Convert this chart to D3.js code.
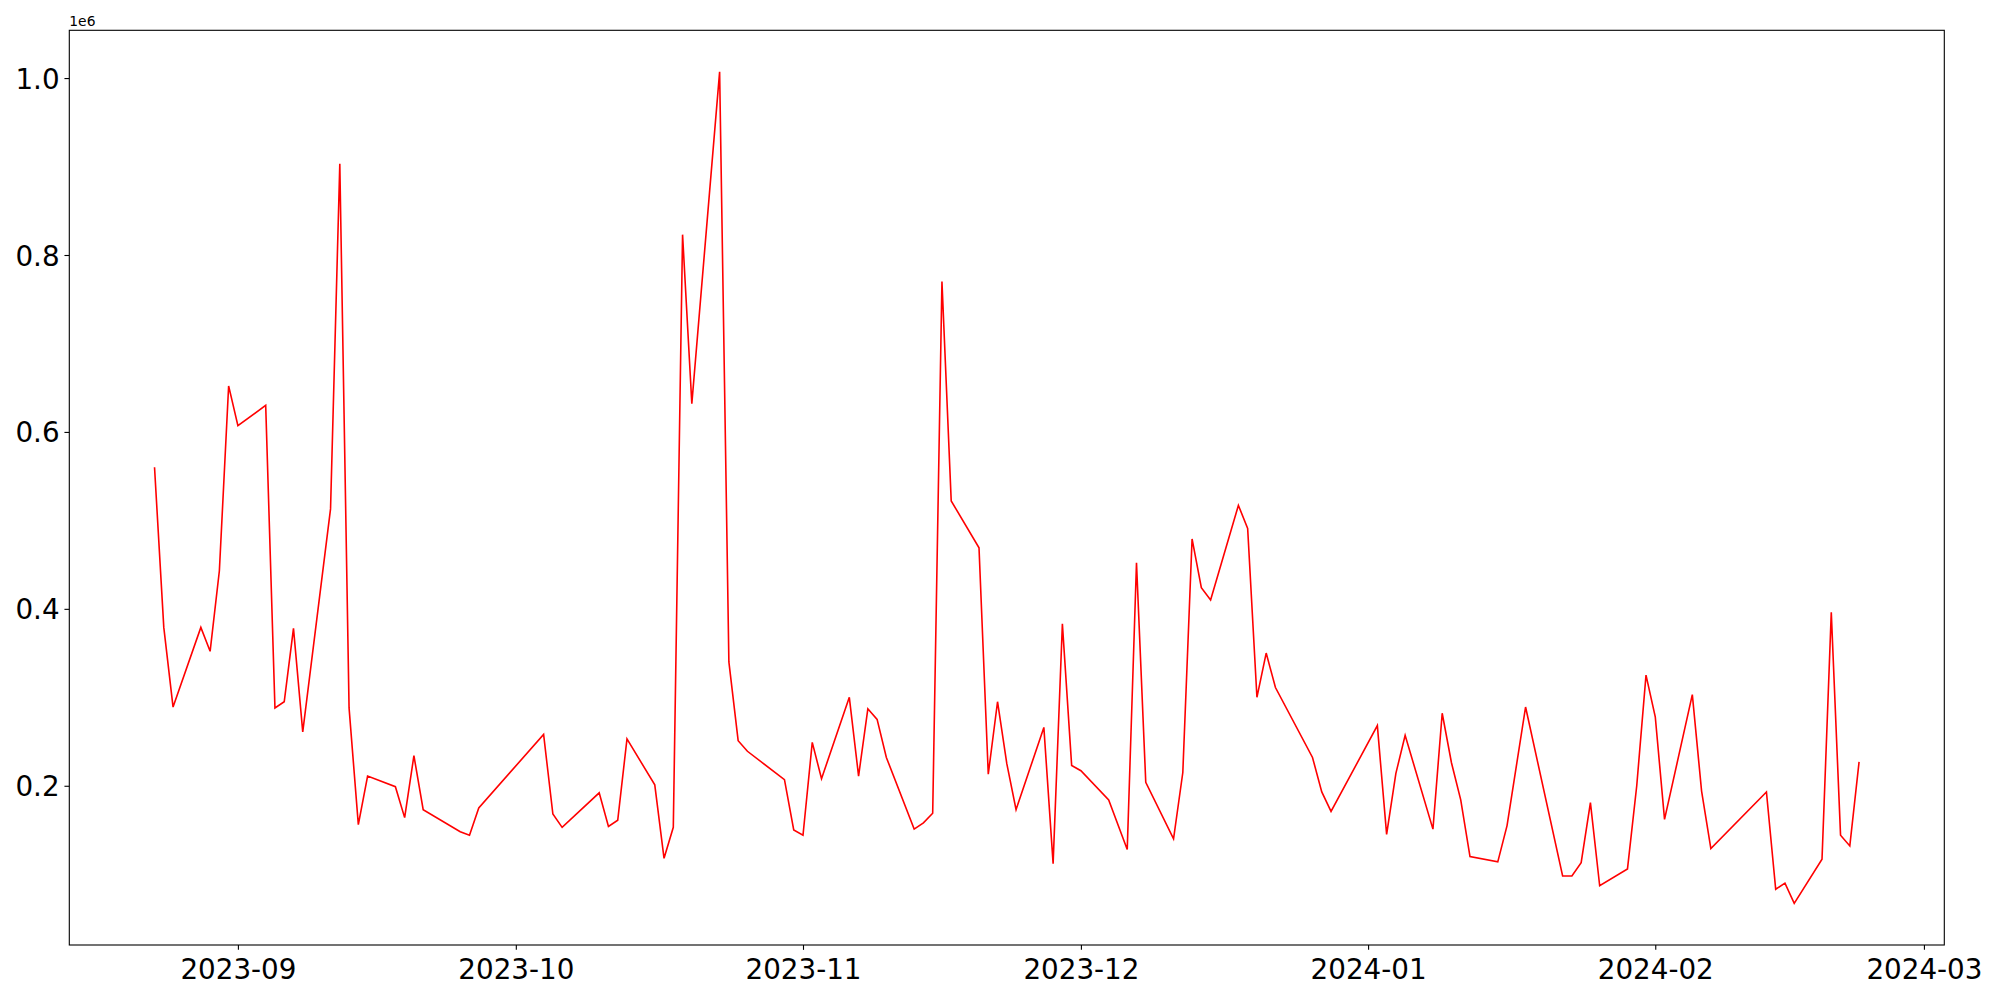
<!DOCTYPE html>
<html>
<head>
<meta charset="utf-8">
<script src="https://cdn.jsdelivr.net/npm/d3@7"></script>
<style>
  html, body { margin: 0; padding: 0; background: #fff; }
  svg { display: block; }
  text { font-family: "DejaVu Sans", sans-serif; fill: #000; }
</style>
</head>
<body>
<script>
// ---- data ----
const dates = [
  "2023-08-23","2023-08-24","2023-08-25","2023-08-28","2023-08-29","2023-08-30","2023-08-31",
  "2023-09-01","2023-09-04","2023-09-05","2023-09-06","2023-09-07","2023-09-08",
  "2023-09-11","2023-09-12","2023-09-13","2023-09-14","2023-09-15",
  "2023-09-18","2023-09-19","2023-09-20","2023-09-21",
  "2023-09-25","2023-09-26","2023-09-27",
  "2023-10-04","2023-10-05","2023-10-06",
  "2023-10-10","2023-10-11","2023-10-12","2023-10-13",
  "2023-10-16","2023-10-17","2023-10-18","2023-10-19","2023-10-20",
  "2023-10-23","2023-10-24","2023-10-25","2023-10-26",
  "2023-10-30","2023-10-31","2023-11-01","2023-11-02","2023-11-03",
  "2023-11-06","2023-11-07","2023-11-08","2023-11-09","2023-11-10",
  "2023-11-13","2023-11-14","2023-11-15","2023-11-16","2023-11-17",
  "2023-11-20","2023-11-21","2023-11-22","2023-11-23","2023-11-24",
  "2023-11-27","2023-11-28","2023-11-29","2023-11-30","2023-12-01",
  "2023-12-04","2023-12-06","2023-12-07","2023-12-08",
  "2023-12-11","2023-12-12","2023-12-13","2023-12-14","2023-12-15",
  "2023-12-18","2023-12-19","2023-12-20","2023-12-21","2023-12-22",
  "2023-12-26","2023-12-27","2023-12-28",
  "2024-01-02","2024-01-03","2024-01-04","2024-01-05",
  "2024-01-08","2024-01-09","2024-01-10","2024-01-11","2024-01-12",
  "2024-01-15","2024-01-16","2024-01-18",
  "2024-01-22","2024-01-23","2024-01-24","2024-01-25","2024-01-26",
  "2024-01-29","2024-01-30","2024-01-31","2024-02-01","2024-02-02",
  "2024-02-05","2024-02-06","2024-02-07",
  "2024-02-13","2024-02-14","2024-02-15","2024-02-16",
  "2024-02-19","2024-02-20","2024-02-21","2024-02-22","2024-02-23"
];
const values = [
  560000,379000,289000,379000,352000,443000,652000,
  607000,630000,288000,295000,378000,261000,
  513000,903000,288000,156000,211000,
  199000,164000,234000,173000,
  148000,144000,175000,
  258000,168000,153000,
  192000,154000,161000,253000,
  201000,118000,153000,823000,632000,
  1007000,340000,251000,239000,
  207000,150000,144000,249000,208000,
  300000,211000,287000,275000,232000,
  151000,158000,169000,770000,522000,
  469000,213000,295000,225000,173000,
  266000,112000,383000,223000,217000,
  184000,128000,452000,204000,
  140000,215000,479000,424000,410000,
  517000,491000,300000,350000,311000,
  232000,193000,171000,
  268000,145000,214000,257000,
  151000,282000,226000,184000,120000,
  114000,155000,289000,
  98000,98000,113000,181000,87000,
  106000,200000,325000,278000,162000,
  303000,194000,129000,
  193000,83000,90000,67000,
  117000,396000,144000,132000,227000
];
const yTicks = [200000, 400000, 600000, 800000, 1000000];
const yTickLabels = ["0.2", "0.4", "0.6", "0.8", "1.0"];
const offsetLabel = "1e6";

// ---- layout ----
const W = 2000, H = 1000;
const L = 69.3, T = 30.3, R = 1944.3, B = 945;
const fs = 27.78, tickLen = 4.86, pad = 4.86;

const parse = d3.utcParse("%Y-%m-%d");
const data = dates.map((d, i) => ({ date: parse(d), value: values[i] }));

const xExt = d3.extent(data, d => d.date.getTime());
const xPad = (xExt[1] - xExt[0]) * 0.05;
const x = d3.scaleUtc().domain([new Date(xExt[0] - xPad), new Date(xExt[1] + xPad)]).range([L, R]);

const yExt = d3.extent(values);
const yPad = (yExt[1] - yExt[0]) * 0.05;
const y = d3.scaleLinear().domain([yExt[0] - yPad, yExt[1] + yPad]).range([B, T]);

const svg = d3.select("body").append("svg").attr("width", W).attr("height", H);
svg.append("rect").attr("width", W).attr("height", H).attr("fill", "#fff");

// line
svg.append("path")
  .datum(data)
  .attr("fill", "none")
  .attr("stroke", "#ff0000")
  .attr("stroke-width", 1.6)
  .attr("stroke-linejoin", "miter")
  .attr("d", d3.line().x(d => x(d.date)).y(d => y(d.value)));

// x axis
const xAxis = svg.append("g").attr("transform", `translate(0,${B})`)
  .call(d3.axisBottom(x).ticks(d3.utcMonth.every(1)).tickFormat(d3.utcFormat("%Y-%m"))
    .tickSize(tickLen).tickPadding(pad));
xAxis.select(".domain").remove();
xAxis.selectAll(".tick line").attr("stroke", "#000").attr("stroke-width", 1.1);
xAxis.selectAll(".tick text").attr("font-size", fs).attr("font-family", "DejaVu Sans")
  .attr("y", 0).attr("dy", 0).attr("transform", `translate(0,${34})`);

// y axis
const yAxis = svg.append("g").attr("transform", `translate(${L},0)`)
  .call(d3.axisLeft(y).tickValues(yTicks).tickFormat((d, i) => yTickLabels[i])
    .tickSize(tickLen).tickPadding(pad));
yAxis.select(".domain").remove();
yAxis.selectAll(".tick line").attr("stroke", "#000").attr("stroke-width", 1.1);
yAxis.selectAll(".tick text").attr("font-size", fs).attr("font-family", "DejaVu Sans")
  .attr("dy", "0.36em");

// spines
svg.append("rect").attr("x", L).attr("y", T).attr("width", R - L).attr("height", B - T)
  .attr("fill", "none").attr("stroke", "#000").attr("stroke-width", 1.1);

// offset text
svg.append("text").attr("x", L).attr("y", 25.5).attr("font-size", 13.89)
  .attr("font-family", "DejaVu Sans").text(offsetLabel);
</script>
</body>
</html>
